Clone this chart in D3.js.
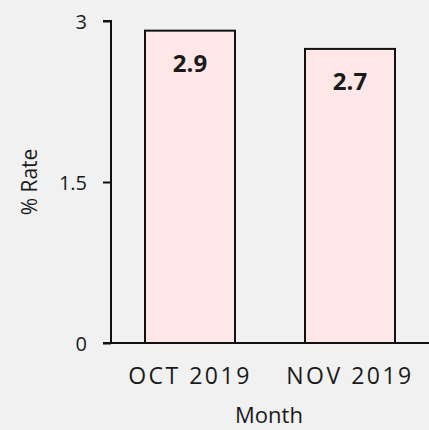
<!doctype html>
<html>
<head>
  <meta charset="utf-8">
  <title>% Rate by Month</title>
  <script src="https://d3js.org/d3.v7.min.js"></script>
  <style>
    body { margin: 0; background: #f1f1f1; }
    svg text { font-family: "Open Sans", sans-serif; fill: #1a1a1a; }
  </style>
</head>
<body>
<div id="chart"></div>
<script>
  // data
  var months = ["OCT 2019", "NOV 2019"];
  var rates = [2.91, 2.74];
  var yTicks = [0, 1.5, 3];

  var width = 429, height = 430;
  var margin = {top: 21, right: 0, bottom: 87, left: 111};

  var svg = d3.select("#chart")
    .append("svg")
      .attr("width", width)
      .attr("height", height);

  var x = d3.scaleBand()
    .domain(months)
    .range([margin.left, width - margin.right])
    .paddingInner(0.4375)
    .paddingOuter(0.2125);

  var y = d3.scaleLinear()
    .domain([0, 3])
    .range([height - margin.bottom, margin.top]);

  // bars
  svg.append("g")
    .selectAll("rect")
    .data(months)
    .enter()
    .append("rect")
      .attr("x", function(d){ return x(d); })
      .attr("y", function(d, i){ return y(rates[i]); })
      .attr("width", x.bandwidth())
      .attr("height", function(d, i){ return y(0) - y(rates[i]); })
      .style("fill", "#ffe6e7")
      .style("stroke", "#111")
      .style("stroke-width", 2);

  // value labels
  svg.append("g")
    .selectAll("text")
    .data(months)
    .enter()
    .append("text")
      .attr("x", function(d){ return x(d) + x.bandwidth() / 2; })
      .attr("y", function(d, i){ return y(rates[i]) + 41; })
      .attr("text-anchor", "middle")
      .style("font-size", "24px")
      .style("font-weight", "bold")
      .text(function(d, i){ return rates[i].toFixed(1); });

  // y axis
  var yAxis = svg.append("g")
    .attr("transform", "translate(" + margin.left + ",0)")
    .call(d3.axisLeft(y).tickValues(yTicks).tickSize(8).tickPadding(16)
      .tickFormat(function(d){ return d; }));
  yAxis.select(".domain").attr("stroke", "#111").attr("stroke-width", 2)
    .attr("d", "M-8," + y(3) + "H0V" + y(0));
  yAxis.selectAll(".tick line").attr("stroke", "#111").attr("stroke-width", 2);
  yAxis.selectAll(".tick text").style("font-size", "20px")
    .attr("dy", "0.36em").style("fill", "#1a1a1a");

  // x axis
  var xAxis = svg.append("g")
    .attr("transform", "translate(0," + y(0) + ")")
    .call(d3.axisBottom(x).tickSize(0).tickPadding(25));
  xAxis.select(".domain").attr("stroke", "#111").attr("stroke-width", 2)
    .attr("d", "M" + (margin.left - 8) + ",0H" + width);
  xAxis.selectAll(".tick text").style("font-size", "23px")
    .style("letter-spacing", "2.5px").attr("dy", "0.71em").style("fill", "#1a1a1a");

  // axis titles
  svg.append("text")
    .attr("x", 269)
    .attr("y", 423)
    .attr("text-anchor", "middle")
    .style("font-size", "22px")
    .text("Month");

  svg.append("text")
    .attr("transform", "translate(37," + ((y(0) + y(3)) / 2) + ") rotate(-90)")
    .attr("text-anchor", "middle")
    .style("font-size", "21px")
    .text("% Rate");
</script>
</body>
</html>
